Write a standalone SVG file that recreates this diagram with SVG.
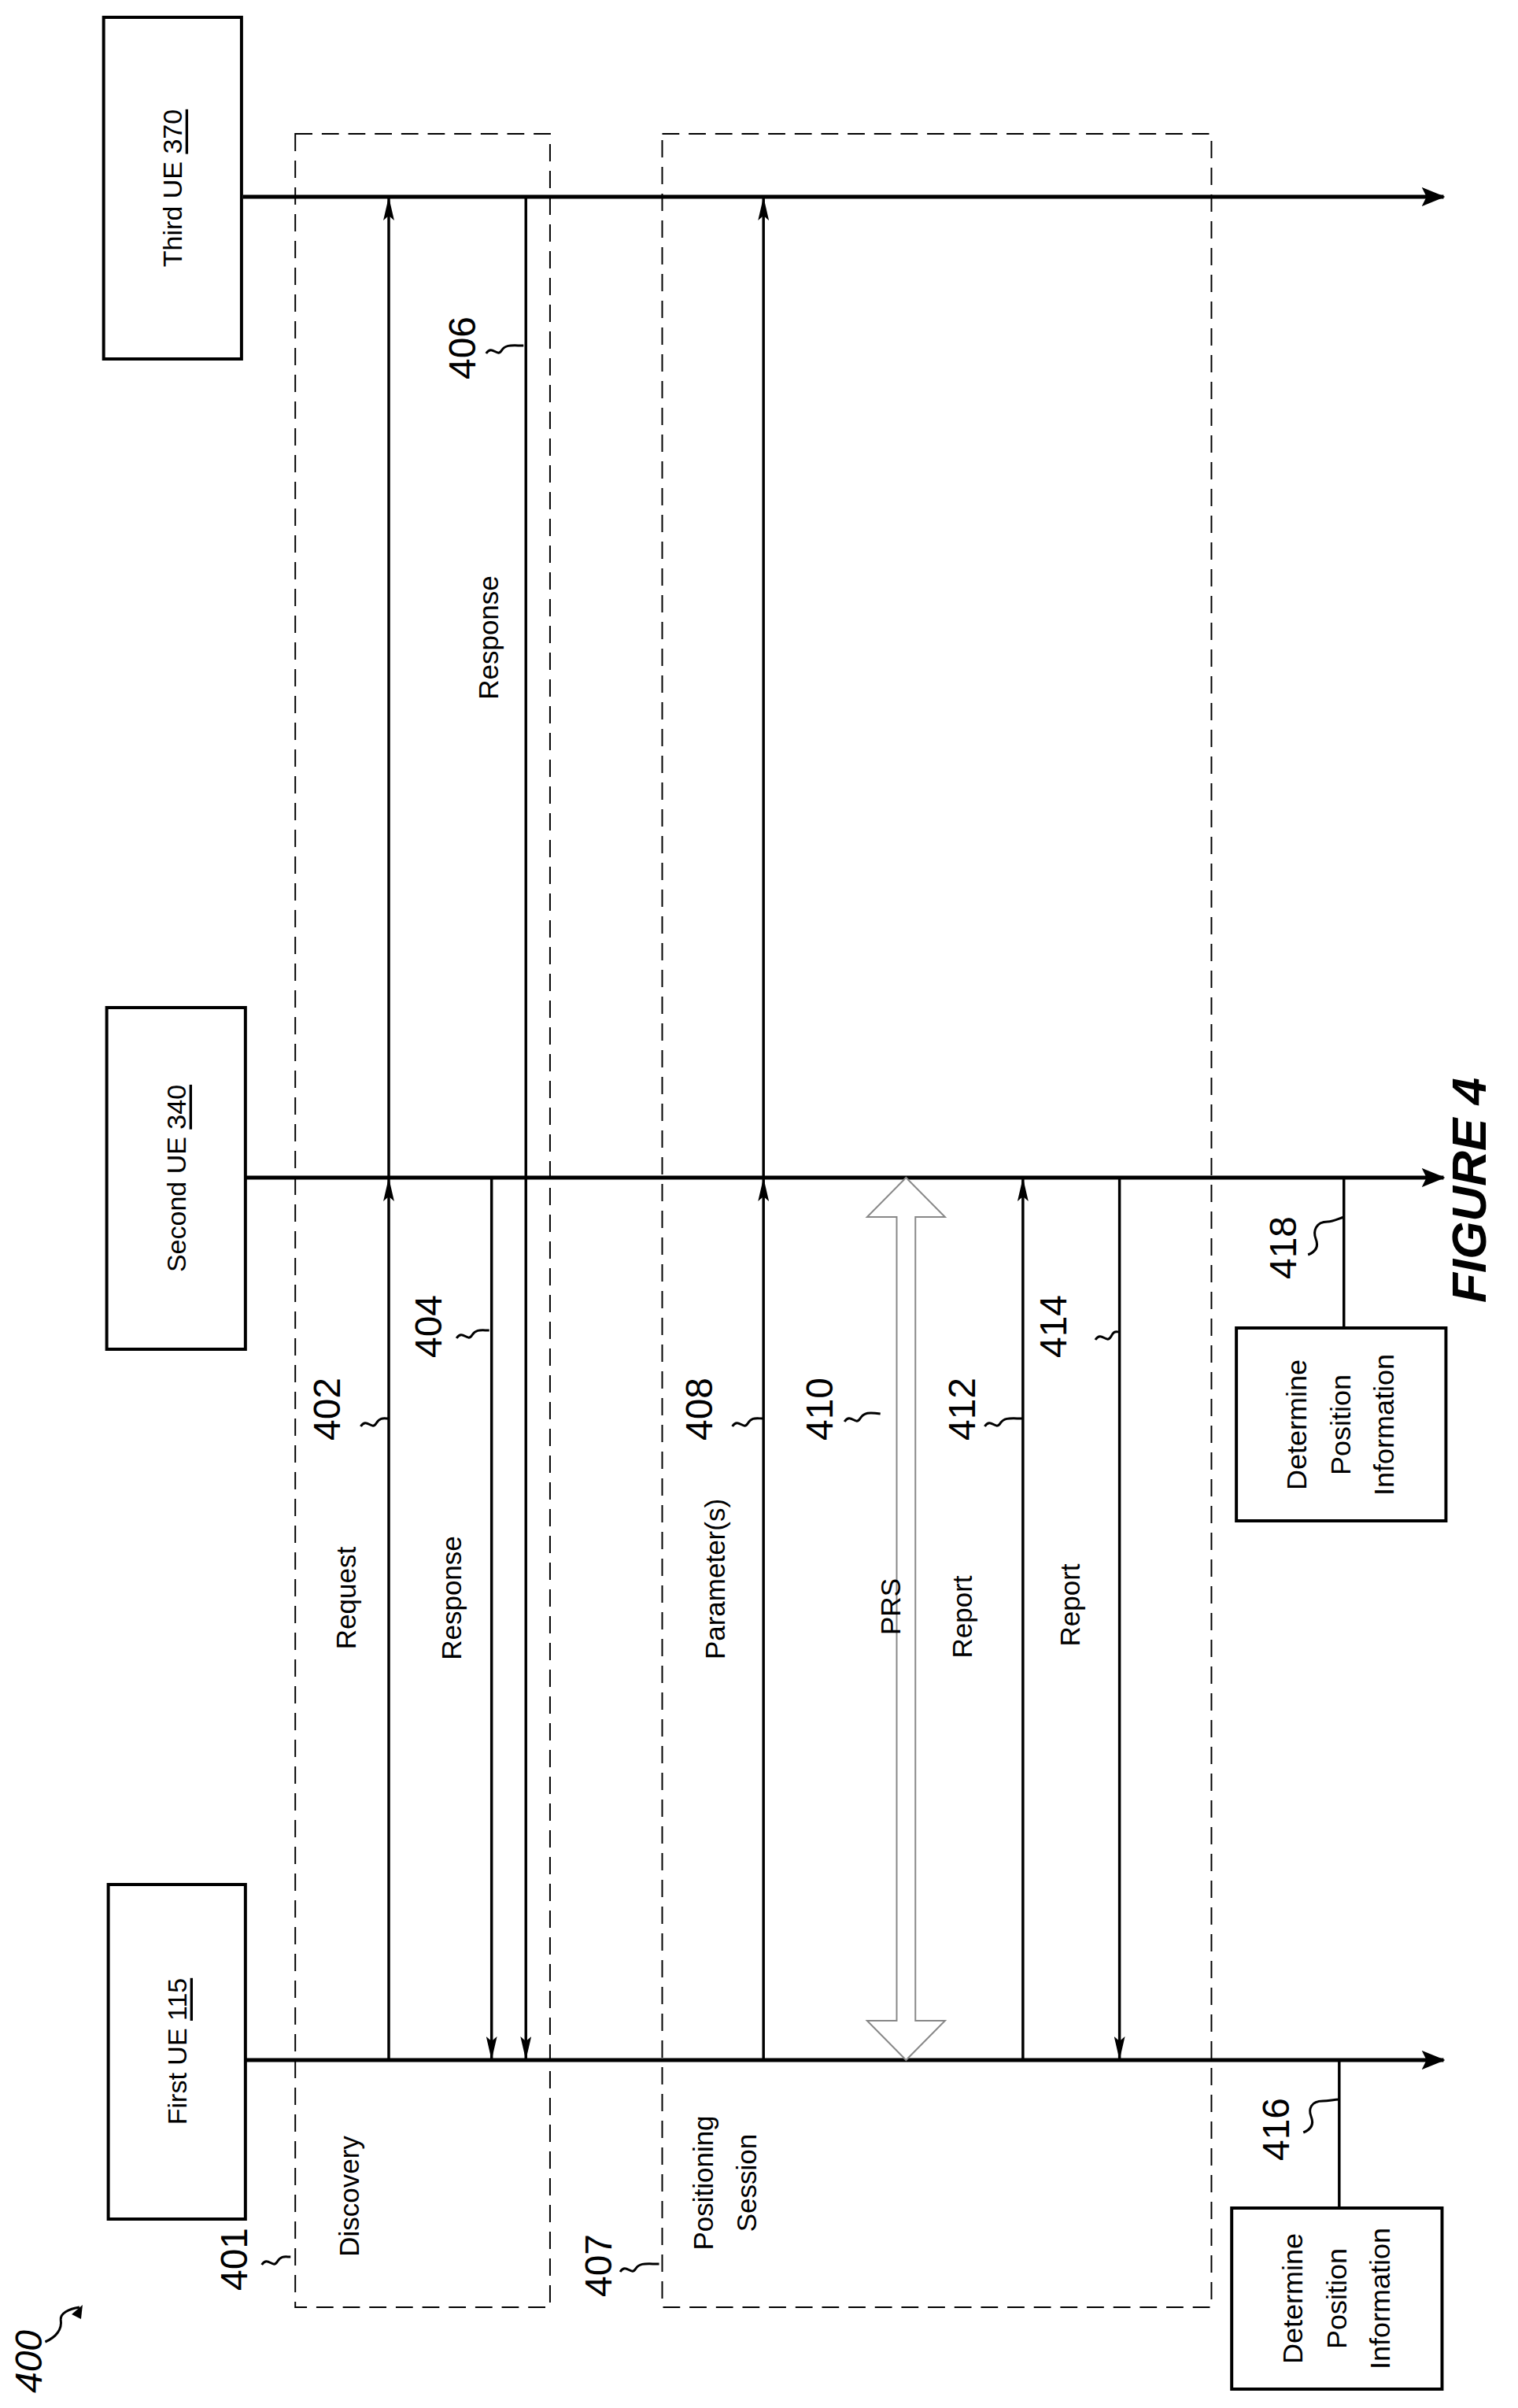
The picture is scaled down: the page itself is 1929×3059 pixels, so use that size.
<svg xmlns="http://www.w3.org/2000/svg" width="1929" height="3059" viewBox="0 0 1929 3059">
<style>
text{font-family:"Liberation Sans",Arial,sans-serif;fill:#000;text-anchor:middle;dominant-baseline:central}
.t{font-size:34px}.l{font-size:35px}.n{font-size:48px}.b{font-size:36px}
.box{fill:#fff;stroke:#000;stroke-width:4}
.life{stroke:#000;stroke-width:5;fill:none}
.msg{stroke:#000;stroke-width:3.5;fill:none}
.dash{stroke:#000;stroke-width:2;fill:none;stroke-dasharray:22 12}
.sq{stroke:#000;stroke-width:3;fill:none}
</style>
<defs>
<marker id="ah" viewBox="0 0 30 14" refX="30" refY="7" markerWidth="30" markerHeight="14" markerUnits="userSpaceOnUse" orient="auto"><path d="M0,0 L30,7 L0,14 L6,7 Z" fill="#000"/></marker>
<marker id="big" viewBox="0 0 30 24" refX="28" refY="12" markerWidth="30" markerHeight="24" markerUnits="userSpaceOnUse" orient="auto"><path d="M0,0 L30,12 L0,24 L6,12 Z" fill="#000"/></marker>
</defs>
<g transform="scale(0.99,1)">
<g id="frames">
<rect class="dash" x="379" y="170" width="327" height="2761"/>
<rect class="dash" x="850" y="170" width="705" height="2761"/>
</g>
<g id="connectors">
<line class="life" x1="312" y1="250" x2="1853" y2="250" marker-end="url(#big)"/>
<line class="life" x1="315" y1="1496" x2="1853" y2="1496" marker-end="url(#big)"/>
<line class="life" x1="315" y1="2617" x2="1853" y2="2617" marker-end="url(#big)"/>
<line class="msg" x1="499" y1="2617" x2="499" y2="1496" marker-end="url(#ah)"/>
<line class="msg" x1="499" y1="1496" x2="499" y2="250" marker-end="url(#ah)"/>
<line class="msg" x1="631" y1="1496" x2="631" y2="2617" marker-end="url(#ah)"/>
<line class="msg" x1="675" y1="250" x2="675" y2="2617" marker-end="url(#ah)"/>
<line class="msg" x1="980" y1="2617" x2="980" y2="1496" marker-end="url(#ah)"/>
<line class="msg" x1="980" y1="1496" x2="980" y2="250" marker-end="url(#ah)"/>
<path d="M1163,1496 L1213,1546 L1175,1546 L1175,2567 L1213,2567 L1163,2617 L1113,2567 L1151,2567 L1151,1546 L1113,1546 Z" fill="#fff" stroke="#888" stroke-width="2"/>
<line class="msg" x1="1313" y1="2617" x2="1313" y2="1496" marker-end="url(#ah)"/>
<line class="msg" x1="1437" y1="1496" x2="1437" y2="2617" marker-end="url(#ah)"/>
<line class="msg" x1="1725" y1="1496" x2="1725" y2="1687"/>
<line class="msg" x1="1719" y1="2617" x2="1719" y2="2805"/>
</g>
<g id="squiggles">
<path class="sq" d="M463,1812 c8,-12 14,6 20,-4 c5,-8 10,-6 16,-6"/>
<path class="sq" d="M586,1700 c8,-12 14,6 20,-4 c5,-8 12,-6 22,-6"/>
<path class="sq" d="M624,449 c8,-12 14,6 20,-4 c5,-8 14,-6 28,-6"/>
<path class="sq" d="M940,1812 c8,-12 14,6 20,-4 c5,-8 10,-6 20,-6"/>
<path class="sq" d="M1084,1806 c8,-12 14,6 20,-4 c5,-8 12,-8 26,-6"/>
<path class="sq" d="M1264,1812 c8,-12 14,6 20,-4 c5,-8 14,-6 29,-6"/>
<path class="sq" d="M1406,1702 c8,-12 14,6 20,-4 c4,-8 6,-6 11,-6"/>
<path class="sq" d="M1679,1594 c10,-4 14,-10 10,-20 c-4,-10 0,-22 15,-22 c8,0 14,-4 21,-6"/>
<path class="sq" d="M1673,2709 c10,-4 14,-10 10,-20 c-4,-10 0,-20 15,-20 c8,0 14,-2 21,-2"/>
<path class="sq" d="M336,2877 c8,-12 14,6 20,-4 c5,-8 10,-6 17,-6"/>
<path class="sq" d="M796,2886 c8,-12 14,6 20,-4 c5,-8 14,-6 30,-6"/>
<path class="sq" d="M58,2975 c14,-6 22,-16 20,-28 c-1,-8 10,-14 24,-16" />
<path d="M106,2928 L92,2940 L104,2946 Z" fill="#000"/>
</g>
<g id="n_first">
<rect class="box" x="139" y="2394" width="176" height="425"/>
<text class="t" transform="translate(227,2606) rotate(-90)">First UE <tspan text-decoration="underline">115</tspan></text>
</g>
<g id="n_second">
<rect class="box" x="137" y="1280" width="178" height="434"/>
<text class="t" transform="translate(226,1497) rotate(-90)">Second UE <tspan text-decoration="underline">340</tspan></text>
</g>
<g id="n_third">
<rect class="box" x="133" y="22" width="177" height="434"/>
<text class="t" transform="translate(221,239) rotate(-90)">Third UE <tspan text-decoration="underline">370</tspan></text>
</g>
<g id="n_416">
<rect class="box" x="1581" y="2805" width="270" height="230"/>
<text class="b" transform="translate(1716,2920) rotate(-90)"><tspan x="0" dy="-56">Determine</tspan><tspan x="0" dy="56">Position</tspan><tspan x="0" dy="56">Information</tspan></text>
</g>
<g id="n_418">
<rect class="box" x="1587" y="1687" width="269" height="245"/>
<text class="b" transform="translate(1721,1810) rotate(-90)"><tspan x="0" dy="-56">Determine</tspan><tspan x="0" dy="56">Position</tspan><tspan x="0" dy="56">Information</tspan></text>
</g>
<g id="labels">
<text class="l" transform="translate(444,2030) rotate(-90)">Request</text>
<text class="l" transform="translate(579,2030) rotate(-90)">Response</text>
<text class="l" transform="translate(627,810) rotate(-90)">Response</text>
<text class="l" transform="translate(918,2006) rotate(-90)">Parameter(s)</text>
<text class="l" transform="translate(1143,2041) rotate(-90)">PRS</text>
<text class="l" transform="translate(1235,2054) rotate(-90)">Report</text>
<text class="l" transform="translate(1373,2039) rotate(-90)">Report</text>
<text class="l" transform="translate(448,2790) rotate(-90)">Discovery</text>
<text class="l" transform="translate(930,2773) rotate(-90)"><tspan x="0" dy="-28">Positioning</tspan><tspan x="0" dy="56">Session</tspan></text>
<text class="n" transform="translate(420,1790) rotate(-90)">402</text>
<text class="n" transform="translate(550,1685) rotate(-90)">404</text>
<text class="n" transform="translate(594,442) rotate(-90)">406</text>
<text class="n" transform="translate(898,1790) rotate(-90)">408</text>
<text class="n" transform="translate(1052,1790) rotate(-90)">410</text>
<text class="n" transform="translate(1235,1790) rotate(-90)">412</text>
<text class="n" transform="translate(1352,1685) rotate(-90)">414</text>
<text class="n" transform="translate(1647,1585) rotate(-90)">418</text>
<text class="n" transform="translate(1638,2705) rotate(-90)">416</text>
<text class="n" transform="translate(301,2870) rotate(-90)">401</text>
<text class="n" transform="translate(768,2878) rotate(-90)">407</text>
<text class="n" font-style="italic" transform="translate(37,3000) rotate(-90)">400</text>
<text font-size="62" font-weight="bold" font-style="italic" transform="translate(1885,1512) rotate(-90)">FIGURE 4</text>
</g>
</g>
</svg>
